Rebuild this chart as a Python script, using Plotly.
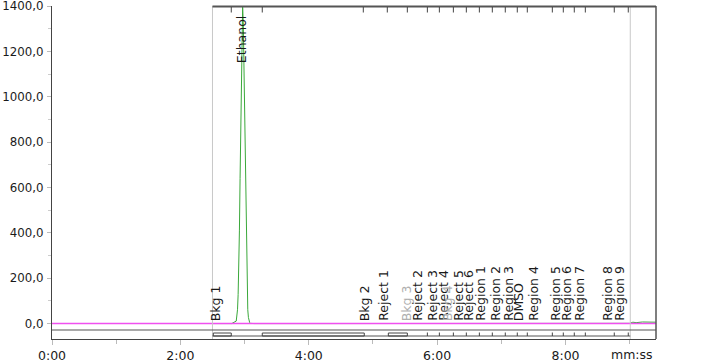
import plotly.graph_objects as go

# ---------------- data ----------------
# Ethanol peak (minutes, intensity)
trace_time = [2.50, 2.80, 2.87, 2.88, 2.89, 2.90, 2.91, 2.92, 2.93, 2.94, 2.95, 2.96,
              2.97, 2.98, 2.99, 3.00, 3.01, 3.02, 3.03, 3.04, 3.05, 3.06, 3.07, 3.08,
              3.09, 3.15, 4.00, 6.00, 7.50, 7.60, 7.70, 8.40, 8.55, 8.70,
              9.00, 9.05, 9.10, 9.20, 9.30, 9.41]
trace_value = [0, 0, 11, 27, 61, 128, 240, 412, 639, 898, 1148, 1328,
               1395, 1328, 1148, 898, 639, 412, 240, 128, 61, 27, 11, 4,
               1, 0, 0, 0, 0, 3, 0, 0, 3, 0,
               1, 6, 4, 7, 5, 6]

baseline_time = [0.0, 9.41]
baseline_value = [0, 0]

peak_labels = ["Bkg 1", "Ethanol", "Bkg 2", "Reject 1", "Bkg 3", "Reject 2", "Reject 3",
               "Reject 4", "Bkg 4", "Reject 5", "Reject 6", "Region 1", "Region 2",
               "Region 3", "DMSO", "Region 4", "Region 5", "Region 6", "Region 7",
               "Region 8", "Region 9"]
peak_label_time = [2.544, 2.955, 4.865, 5.161, 5.520, 5.691, 5.924, 6.096, 6.158, 6.330,
                   6.485, 6.672, 6.906, 7.108, 7.264, 7.498, 7.841, 8.012, 8.214, 8.651, 8.838]
peak_label_faded = ["Bkg 3", "Bkg 4"]

marker_ticks = [2.793, 3.276, 4.850, 5.224, 5.536, 5.848, 6.035, 6.253, 6.455, 6.658,
                6.860, 7.062, 7.249, 7.405, 7.795, 7.966, 8.137, 8.309, 8.760, 8.978]
band_ticks = [5.848, 6.035, 6.253, 6.455, 6.658, 6.860, 7.062, 7.249, 7.405, 7.795,
              7.966, 8.137, 8.309, 8.760, 8.978]
bkg_windows = [(2.513, 2.793), (3.276, 4.865), (5.240, 5.536)]
window_start = 2.50
window_end = 9.009

x_tick_vals = [0, 2, 4, 6, 8]
x_tick_text = ["0:00", "2:00", "4:00", "6:00", "8:00"]
y_tick_vals = [0, 200, 400, 600, 800, 1000, 1200, 1400]
y_tick_text = ["0,0", "200,0", "400,0", "600,0", "800,0", "1000,0", "1200,0", "1400,0"]

# ---------------- figure ----------------
W, H = 707, 362
M_L, M_R, M_T, M_B = 52, 51, 6, 23
PLOT_H = H - M_T - M_B


def py(pix):
    """pixel row -> paper y"""
    return (H - M_B - pix) / PLOT_H


FONT = "DejaVu Sans"
fig = go.Figure()

fig.add_trace(go.Scatter(x=trace_time, y=trace_value, mode="lines",
                         line=dict(color="#3aa83a", width=1), hoverinfo="skip"))
fig.add_trace(go.Scatter(x=baseline_time, y=baseline_value, mode="lines",
                         line=dict(color="#f050f0", width=1.6), hoverinfo="skip"))

shapes = []
dark = "#555555"
light = "#c8c8c8"
for xv in (window_start, window_end):
    shapes.append(dict(type="line", xref="x", yref="paper", x0=xv, x1=xv, y0=0, y1=1,
                       line=dict(color=light, width=1)))
shapes.append(dict(type="line", xref="x", yref="paper", x0=window_start, x1=9.41,
                   y0=py(6.5), y1=py(6.5), line=dict(color=dark, width=2)))
shapes.append(dict(type="line", xref="paper", yref="paper", x0=1, x1=1, y0=0, y1=py(6),
                   line=dict(color=dark, width=1.5)))
shapes.append(dict(type="line", xref="paper", yref="paper", x0=0, x1=1,
                   y0=py(330), y1=py(330), line=dict(color=dark, width=1.2)))
shapes.append(dict(type="line", xref="x", yref="paper", x0=window_start, x1=window_end,
                   y0=py(336), y1=py(336), line=dict(color=dark, width=1)))
for t in marker_ticks:
    shapes.append(dict(type="line", xref="x", yref="paper", x0=t, x1=t,
                       y0=py(7), y1=py(12.5), line=dict(color="#444444", width=1)))
for t in band_ticks:
    shapes.append(dict(type="line", xref="x", yref="paper", x0=t, x1=t,
                       y0=py(336), y1=py(332.5), line=dict(color="#444444", width=1)))
for a, b in bkg_windows:
    shapes.append(dict(type="rect", xref="x", yref="paper", x0=a, x1=b,
                       y0=py(336), y1=py(333), line=dict(color="#444444", width=1),
                       fillcolor="rgba(0,0,0,0)"))

annotations = []
for lab, t in zip(peak_labels, peak_label_time):
    col = "#b0b0b0" if lab in peak_label_faded else "#1a1a1a"
    if lab == "Ethanol":
        annotations.append(dict(x=t, y=py(15), xref="x", yref="paper", text=lab,
                                 textangle=-90, showarrow=False, xanchor="center",
                                 yanchor="top", borderpad=0,
                                 font=dict(family=FONT, size=12.5, color=col)))
    else:
        annotations.append(dict(x=t, y=py(322), xref="x", yref="paper", text=lab,
                                 textangle=-90, showarrow=False, xanchor="center",
                                 yanchor="bottom", borderpad=0,
                                 font=dict(family=FONT, size=12.5, color=col)))
annotations.append(dict(x=(632 - M_L) / (W - M_L - M_R), y=py(354), xref="paper",
                        yref="paper", text="mm:ss", showarrow=False,
                        xanchor="center", yanchor="middle",
                        font=dict(family=FONT, size=12.5, color="#1a1a1a")))

fig.update_layout(
    width=W, height=H,
    margin=dict(l=M_L, r=M_R, t=M_T, b=M_B, pad=0, autoexpand=False),
    paper_bgcolor="white", plot_bgcolor="white",
    showlegend=False,
    shapes=shapes,
    annotations=annotations,
    font=dict(family=FONT, size=12, color="#1a1a1a"),
)
fig.update_xaxes(range=[0, 9.41], tickvals=x_tick_vals, ticktext=x_tick_text,
                 showgrid=False, zeroline=False, showline=True, linecolor="#444444",
                 linewidth=1.2, ticks="outside", ticklen=5, tickcolor="#bbbbbb",
                 minor=dict(dtick=1, tick0=0, ticks="outside", ticklen=4, tickcolor="#bbbbbb"),
                 automargin=False, ticklabeloverflow="allow",
                 tickfont=dict(family=FONT, size=12.5, color="#1a1a1a"))
fig.update_yaxes(range=[-68, 1400], tickvals=y_tick_vals, ticktext=y_tick_text,
                 showgrid=False, zeroline=False, showline=True, linecolor="#444444",
                 linewidth=1.2, ticks="outside", ticklen=4, tickcolor="#bbbbbb",
                 minor=dict(dtick=100, tick0=0, ticks="outside", ticklen=3, tickcolor="#cccccc"),
                 automargin=False, ticklabeloverflow="allow", ticklabelstandoff=1,
                 tickfont=dict(family=FONT, size=11.8, color="#1a1a1a"))

fig.write_html("out.html")
